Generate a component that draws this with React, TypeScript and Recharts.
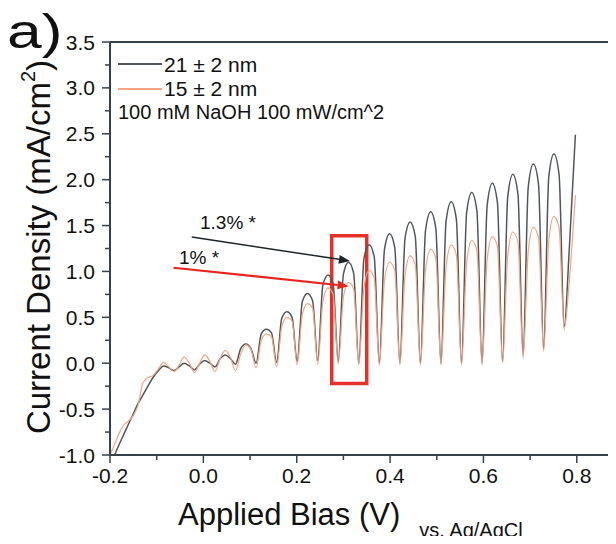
import React from 'react';
import { LineChart, Line, XAxis, YAxis, ReferenceLine, ReferenceArea } from 'recharts';

// applied bias (V vs Ag/AgCl)
const bias = [
  -0.2, -0.19, -0.18, -0.17, -0.16, -0.15, -0.14, -0.13, -0.12,
  -0.107, -0.096, -0.085, -0.074,
  -0.063, -0.052, -0.041, -0.03,
  -0.019, -0.008, 0.003, 0.014,
  0.025, 0.036, 0.047, 0.058,
  0.069, 0.08, 0.091, 0.102,
  0.113, 0.124, 0.135, 0.146,
  0.157, 0.168, 0.179, 0.19,
  0.201, 0.212, 0.223, 0.234,
  0.245, 0.256, 0.267, 0.278,
  0.289, 0.3, 0.311, 0.322,
  0.333, 0.344, 0.355, 0.366,
  0.377, 0.388, 0.399, 0.41,
  0.421, 0.432, 0.443, 0.454,
  0.465, 0.476, 0.487, 0.498,
  0.509, 0.52, 0.531, 0.542,
  0.553, 0.564, 0.575, 0.586,
  0.597, 0.608, 0.619, 0.63,
  0.641, 0.652, 0.663, 0.674,
  0.685, 0.696, 0.707, 0.718,
  0.729, 0.74, 0.751, 0.762,
  0.773, 0.784, 0.797,
];

// 21 +/- 2 nm film
const current21 = [
  -1.12, -1.0, -0.88, -0.77, -0.66, -0.55, -0.44, -0.35, -0.26,
  -0.15, -0.08, -0.03, -0.05,
  -0.08, -0.04, 0.0, -0.03,
  -0.07, -0.01, 0.03, 0.0,
  -0.04, 0.05, 0.09, 0.05,
  -0.01, 0.16, 0.21, 0.16,
  0.0, 0.32, 0.37, 0.33,
  0.01, 0.49, 0.56, 0.5,
  0.02, 0.67, 0.76, 0.68,
  0.03, 0.85, 0.96, 0.86,
  0.02, 0.97, 1.1, 0.98,
  0.0, 1.14, 1.29, 1.16,
  0.0, 1.24, 1.41, 1.26,
  0.0, 1.36, 1.54, 1.38,
  0.0, 1.45, 1.65, 1.47,
  0.0, 1.55, 1.76, 1.57,
  0.0, 1.64, 1.86, 1.66,
  0.0, 1.72, 1.96, 1.75,
  0.01, 1.81, 2.06, 1.84,
  0.09, 1.92, 2.17, 1.95,
  0.16, 2.03, 2.28, 2.06,
  0.4, 1.25, 2.49,
];

// 15 +/- 2 nm film
const current15 = [
  -1.0, -0.88, -0.76, -0.67, -0.63, -0.57, -0.46, -0.22, -0.16,
  -0.13, -0.06, 0.01, -0.04,
  -0.09, -0.02, 0.07, 0.0,
  -0.1, 0.0, 0.09, 0.02,
  -0.09, 0.05, 0.14, 0.06,
  -0.08, 0.1, 0.2, 0.15,
  -0.05, 0.25, 0.32, 0.29,
  -0.04, 0.4, 0.5, 0.46,
  -0.02, 0.53, 0.65, 0.6,
  -0.01, 0.67, 0.82, 0.75,
  -0.01, 0.72, 0.88, 0.81,
  -0.02, 0.82, 1.01, 0.93,
  -0.02, 0.9, 1.1, 1.01,
  -0.02, 0.96, 1.17, 1.07,
  -0.02, 1.01, 1.24, 1.14,
  -0.02, 1.05, 1.29, 1.18,
  -0.02, 1.09, 1.34, 1.23,
  -0.02, 1.13, 1.38, 1.27,
  0.0, 1.17, 1.43, 1.32,
  0.05, 1.22, 1.48, 1.37,
  0.13, 1.34, 1.6, 1.48,
  0.36, 0.9, 1.83,
];

const xTicks = [-0.2, -0.1, 0, 0.1, 0.2, 0.3, 0.4, 0.5, 0.6, 0.7, 0.8];
const xMajor = [-0.2, 0, 0.2, 0.4, 0.6, 0.8];
const yTicks = [-1, -0.75, -0.5, -0.25, 0, 0.25, 0.5, 0.75, 1, 1.25, 1.5, 1.75, 2, 2.25, 2.5, 2.75, 3, 3.25, 3.5];
const yMajor = [-1, -0.5, 0, 0.5, 1, 1.5, 2, 2.5, 3, 3.5];

const data = bias.map((v, i) => ({ v, d21: current21[i], d15: current15[i] }));

const FONT = '"Liberation Sans", Arial, sans-serif';
const AXIS = '#36414a';
const isMajor = (list: number[], v: number) => list.some((m) => Math.abs(m - v) < 1e-6);

const XTick = (props: any) => {
  const { x, y, payload } = props;
  const major = isMajor(xMajor, payload.value);
  return (
    <g>
      <line x1={x} x2={x} y1={y} y2={y + (major ? 8 : 5)} stroke={AXIS} strokeWidth={1.5} />
      {major && (
        <text x={x} y={y + 28} textAnchor="middle" fontSize={21} fontFamily={FONT} fill="#111">
          {payload.value.toFixed(1)}
        </text>
      )}
    </g>
  );
};

const YTick = (props: any) => {
  const { x, y, payload } = props;
  const major = isMajor(yMajor, payload.value);
  return (
    <g>
      <line x1={x - (major ? 8 : 5)} x2={x} y1={y} y2={y} stroke={AXIS} strokeWidth={1.5} />
      {major && (
        <text x={x - 15} y={y} dy="0.36em" textAnchor="end" fontSize={21} fontFamily={FONT} fill="#111">
          {payload.value.toFixed(1)}
        </text>
      )}
    </g>
  );
};

const arrow = (color: string, width: number, head: number) => (props: any) => {
  const { x1, y1, x2, y2 } = props;
  const a = Math.atan2(y2 - y1, x2 - x1);
  const bx = x2 - head * Math.cos(a);
  const by = y2 - head * Math.sin(a);
  const px = (head * 0.4) * Math.sin(a);
  const py = (head * 0.4) * Math.cos(a);
  return (
    <g>
      <line x1={x1} y1={y1} x2={bx} y2={by} stroke={color} strokeWidth={width} />
      <polygon points={`${x2},${y2} ${bx + px},${by - py} ${bx - px},${by + py}`} fill={color} />
    </g>
  );
};

const abs = (extra: React.CSSProperties): React.CSSProperties => ({
  position: 'absolute',
  fontFamily: FONT,
  color: '#111',
  whiteSpace: 'nowrap',
  lineHeight: 1,
  ...extra,
});

export default function App() {
  return (
    <div style={{ position: 'relative', width: 616, height: 544, margin: -8, overflow: 'hidden', background: '#fff' }}>
      <LineChart width={616} height={544} data={data} margin={{ top: 42, right: 0, left: 50, bottom: 49 }}>
        <XAxis
          dataKey="v"
          type="number"
          domain={[-0.2, 0.884]}
          ticks={xTicks}
          allowDataOverflow
          height={40}
          tickSize={0}
          tickMargin={0}
          tickLine={false}
          axisLine={{ stroke: AXIS, strokeWidth: 2 }}
          tick={<XTick />}
          interval={0}
        />
        <YAxis
          type="number"
          domain={[-1, 3.5]}
          ticks={yTicks}
          allowDataOverflow
          width={60}
          tickSize={0}
          tickMargin={0}
          tickLine={false}
          axisLine={{ stroke: AXIS, strokeWidth: 2 }}
          tick={<YTick />}
          interval={0}
        />
        <ReferenceLine y={3.5} stroke={AXIS} strokeWidth={2} />
        <Line type="monotone" dataKey="d21" stroke="#50565b" strokeWidth={1.5} dot={false} isAnimationActive={false} />
        <Line type="monotone" dataKey="d15" stroke="#f5a482" strokeWidth={1.2} dot={false} isAnimationActive={false} />
        <ReferenceArea x1={0.275} x2={0.35} y1={-0.22} y2={1.39} fill="none" fillOpacity={0} stroke="#e8302a" strokeWidth={3.5} />
        <ReferenceLine
          segment={[{ x: -0.025, y: 1.376 }, { x: 0.314, y: 1.114 }]}
          shape={arrow('#1e2326', 1.5, 11)}
        />
        <ReferenceLine
          segment={[{ x: -0.064, y: 1.04 }, { x: 0.311, y: 0.84 }]}
          shape={arrow('#e8251c', 2.2, 11)}
        />
      </LineChart>

      <div style={abs({ left: 7, top: 8, fontSize: 48, transform: 'scaleX(1.3)', transformOrigin: 'left top' })}>a)</div>

      <div style={{ position: 'absolute', left: 118, top: 63, width: 44, height: 1.5, background: '#50565b' }} />
      <div style={abs({ left: 164, top: 55, fontSize: 20, transform: 'scaleX(1.05)', transformOrigin: 'left top' })}>21 ± 2 nm</div>
      <div style={{ position: 'absolute', left: 118, top: 88, width: 44, height: 1.5, background: '#f5a482' }} />
      <div style={abs({ left: 164, top: 79, fontSize: 20, transform: 'scaleX(1.05)', transformOrigin: 'left top' })}>15 ± 2 nm</div>
      <div style={abs({ left: 118, top: 102, fontSize: 20 })}>100 mM NaOH 100 mW/cm^2</div>

      <div style={abs({ left: 200, top: 213, fontSize: 19 })}>1.3% *</div>
      <div style={abs({ left: 179, top: 248, fontSize: 19 })}>1% *</div>

      <div
        style={abs({
          left: 38,
          top: 247,
          fontSize: 33,
          transform: 'translate(-50%, -50%) rotate(-90deg)',
        })}
      >
        Current Density (mA/cm<sup style={{ fontSize: 20, verticalAlign: 'top', position: 'relative', top: -4 }}>2</sup>)
      </div>

      <div style={abs({ left: 178, top: 499, fontSize: 31 })}>
        Applied Bias (V)
        <span style={{ fontSize: 20, marginLeft: 19, position: 'relative', top: 12 }}>vs. Ag/AgCl</span>
      </div>
    </div>
  );
}
